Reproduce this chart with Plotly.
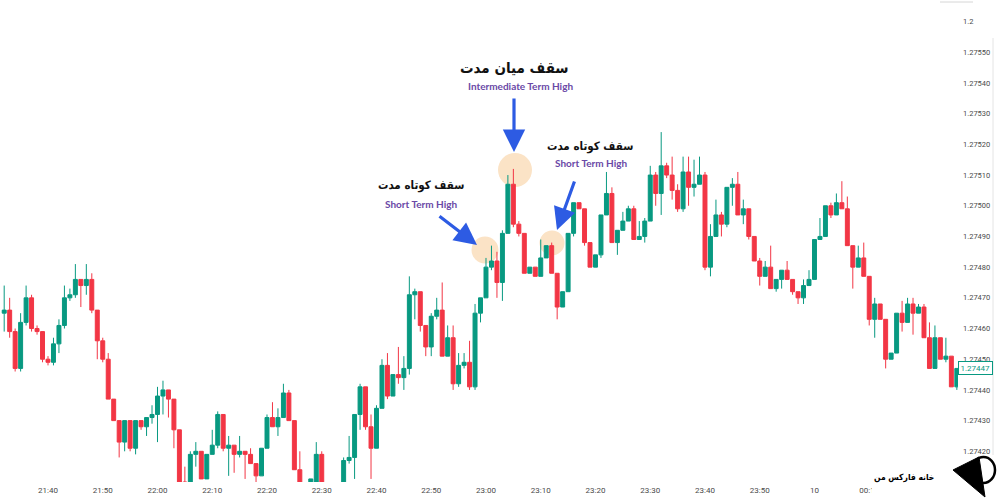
import pandas as pd
import plotly.graph_objects as go

# ---------------- data (1-minute candles, 21:32 -> 00:26) ----------------
times = pd.date_range("2023-06-09 21:32", periods=175, freq="1min")

open_ = [
    1.27465, 1.27466, 1.27459, 1.27447, 1.27462, 1.27470, 1.27460, 1.27459, 1.27450, 1.27449,
    1.27455, 1.27461, 1.27470, 1.27471, 1.27476, 1.27474, 1.27476, 1.27466, 1.27456, 1.27450,
    1.27437, 1.27430, 1.27423, 1.27430, 1.27421, 1.27430, 1.27428, 1.27431, 1.27432, 1.27438,
    1.27440, 1.27437, 1.27427, 1.27410, 1.27409, 1.27419, 1.27420, 1.27411, 1.27419, 1.27422,
    1.27432, 1.27421, 1.27422, 1.27419, 1.27420, 1.27419, 1.27416, 1.27412, 1.27421, 1.27431,
    1.27428, 1.27431, 1.27439, 1.27430, 1.27414, 1.27409, 1.27404, 1.27410, 1.27419, 1.27407,
    1.27402, 1.27404, 1.27401, 1.27417, 1.27418, 1.27432, 1.27441, 1.27428, 1.27421, 1.27434,
    1.27448, 1.27438, 1.27445, 1.27444, 1.27447, 1.27471, 1.27472, 1.27461, 1.27454, 1.27464,
    1.27466, 1.27451, 1.27457, 1.27442, 1.27448, 1.27449, 1.27441, 1.27465, 1.27470, 1.27480,
    1.27482, 1.27475, 1.27491, 1.27507, 1.27494, 1.27491, 1.27478, 1.27480, 1.27477, 1.27483,
    1.27487, 1.27478, 1.27467, 1.27472, 1.27491, 1.27501, 1.27499, 1.27488, 1.27480, 1.27484,
    1.27497, 1.27504, 1.27488, 1.27492, 1.27495, 1.27499, 1.27489, 1.27490, 1.27495, 1.27510,
    1.27504, 1.27513, 1.27510, 1.27505, 1.27499, 1.27511, 1.27506, 1.27507, 1.27510, 1.27480,
    1.27490, 1.27497, 1.27494, 1.27506, 1.27507, 1.27497, 1.27499, 1.27490, 1.27482, 1.27477,
    1.27480, 1.27473, 1.27476, 1.27479, 1.27476, 1.27472, 1.27470, 1.27474, 1.27476, 1.27489,
    1.27490, 1.27500, 1.27497, 1.27501, 1.27499, 1.27487, 1.27480, 1.27483, 1.27477, 1.27463,
    1.27468, 1.27463, 1.27450, 1.27452, 1.27465, 1.27462, 1.27468, 1.27465, 1.27467, 1.27457,
    1.27447, 1.27457, 1.27450, 1.27451, 1.27441,
]
high = [
    1.27474, 1.27470, 1.27460, 1.27465, 1.27474, 1.27471, 1.27461, 1.27459, 1.27451, 1.27457,
    1.27463, 1.27474, 1.27473, 1.27481, 1.27476, 1.27481, 1.27478, 1.27466, 1.27457, 1.27452,
    1.27437, 1.27430, 1.27430, 1.27430, 1.27430, 1.27430, 1.27431, 1.27435, 1.27441, 1.27443,
    1.27440, 1.27437, 1.27427, 1.27415, 1.27420, 1.27423, 1.27420, 1.27419, 1.27427, 1.27433,
    1.27432, 1.27425, 1.27422, 1.27425, 1.27420, 1.27421, 1.27416, 1.27421, 1.27432, 1.27436,
    1.27434, 1.27442, 1.27440, 1.27430, 1.27420, 1.27409, 1.27411, 1.27423, 1.27420, 1.27409,
    1.27406, 1.27408, 1.27418, 1.27425, 1.27432, 1.27442, 1.27441, 1.27432, 1.27435, 1.27450,
    1.27452, 1.27445, 1.27454, 1.27451, 1.27477, 1.27473, 1.27472, 1.27461, 1.27465, 1.27470,
    1.27475, 1.27461, 1.27461, 1.27452, 1.27452, 1.27456, 1.27468, 1.27470, 1.27483, 1.27487,
    1.27485, 1.27492, 1.27510, 1.27512, 1.27495, 1.27491, 1.27480, 1.27480, 1.27489, 1.27487,
    1.27488, 1.27478, 1.27472, 1.27491, 1.27501, 1.27501, 1.27499, 1.27488, 1.27484, 1.27497,
    1.27511, 1.27506, 1.27492, 1.27498, 1.27500, 1.27500, 1.27495, 1.27496, 1.27513, 1.27511,
    1.27524, 1.27514, 1.27516, 1.27507, 1.27516, 1.27516, 1.27515, 1.27516, 1.27511, 1.27494,
    1.27502, 1.27498, 1.27506, 1.27509, 1.27511, 1.27502, 1.27499, 1.27490, 1.27483, 1.27482,
    1.27487, 1.27476, 1.27479, 1.27482, 1.27476, 1.27472, 1.27476, 1.27479, 1.27489, 1.27496,
    1.27500, 1.27501, 1.27504, 1.27508, 1.27503, 1.27487, 1.27487, 1.27488, 1.27477, 1.27470,
    1.27468, 1.27463, 1.27452, 1.27465, 1.27469, 1.27470, 1.27470, 1.27468, 1.27468, 1.27462,
    1.27461, 1.27457, 1.27457, 1.27451, 1.27447,
]
low = [
    1.27459, 1.27457, 1.27446, 1.27446, 1.27461, 1.27459, 1.27458, 1.27449, 1.27448, 1.27448,
    1.27452, 1.27460, 1.27469, 1.27470, 1.27467, 1.27471, 1.27465, 1.27450, 1.27449, 1.27437,
    1.27430, 1.27418, 1.27420, 1.27420, 1.27419, 1.27427, 1.27425, 1.27429, 1.27423, 1.27432,
    1.27431, 1.27421, 1.27409, 1.27407, 1.27406, 1.27415, 1.27411, 1.27411, 1.27419, 1.27421,
    1.27420, 1.27412, 1.27413, 1.27418, 1.27411, 1.27416, 1.27410, 1.27412, 1.27421, 1.27428,
    1.27425, 1.27431, 1.27430, 1.27414, 1.27408, 1.27402, 1.27403, 1.27408, 1.27405, 1.27400,
    1.27398, 1.27399, 1.27400, 1.27416, 1.27411, 1.27427, 1.27427, 1.27411, 1.27421, 1.27434,
    1.27437, 1.27438, 1.27442, 1.27440, 1.27445, 1.27463, 1.27459, 1.27451, 1.27451, 1.27463,
    1.27451, 1.27451, 1.27440, 1.27441, 1.27447, 1.27440, 1.27440, 1.27462, 1.27470, 1.27479,
    1.27470, 1.27469, 1.27491, 1.27493, 1.27490, 1.27478, 1.27478, 1.27477, 1.27477, 1.27483,
    1.27478, 1.27463, 1.27467, 1.27472, 1.27490, 1.27499, 1.27487, 1.27480, 1.27480, 1.27483,
    1.27497, 1.27488, 1.27484, 1.27492, 1.27495, 1.27489, 1.27489, 1.27488, 1.27495, 1.27500,
    1.27497, 1.27509, 1.27502, 1.27498, 1.27498, 1.27500, 1.27503, 1.27507, 1.27479, 1.27477,
    1.27490, 1.27490, 1.27493, 1.27500, 1.27497, 1.27494, 1.27489, 1.27482, 1.27474, 1.27477,
    1.27473, 1.27472, 1.27473, 1.27476, 1.27471, 1.27468, 1.27468, 1.27474, 1.27476, 1.27489,
    1.27490, 1.27496, 1.27497, 1.27499, 1.27487, 1.27473, 1.27480, 1.27477, 1.27461, 1.27457,
    1.27463, 1.27447, 1.27450, 1.27452, 1.27459, 1.27462, 1.27458, 1.27465, 1.27457, 1.27447,
    1.27447, 1.27450, 1.27449, 1.27441, 1.27440,
]
close = [
    1.27466, 1.27459, 1.27447, 1.27462, 1.27470, 1.27460, 1.27459, 1.27450, 1.27449, 1.27455,
    1.27461, 1.27470, 1.27471, 1.27476, 1.27474, 1.27476, 1.27466, 1.27456, 1.27450, 1.27437,
    1.27430, 1.27423, 1.27430, 1.27421, 1.27430, 1.27428, 1.27431, 1.27432, 1.27438, 1.27440,
    1.27437, 1.27427, 1.27410, 1.27409, 1.27419, 1.27420, 1.27411, 1.27419, 1.27422, 1.27432,
    1.27421, 1.27422, 1.27419, 1.27420, 1.27419, 1.27416, 1.27412, 1.27421, 1.27431, 1.27428,
    1.27431, 1.27439, 1.27430, 1.27414, 1.27409, 1.27404, 1.27411, 1.27419, 1.27407, 1.27402,
    1.27404, 1.27401, 1.27417, 1.27418, 1.27432, 1.27441, 1.27428, 1.27421, 1.27434, 1.27448,
    1.27438, 1.27445, 1.27444, 1.27447, 1.27471, 1.27472, 1.27461, 1.27454, 1.27464, 1.27466,
    1.27451, 1.27457, 1.27442, 1.27448, 1.27449, 1.27441, 1.27465, 1.27470, 1.27480, 1.27482,
    1.27475, 1.27491, 1.27507, 1.27494, 1.27491, 1.27478, 1.27480, 1.27477, 1.27483, 1.27487,
    1.27478, 1.27467, 1.27472, 1.27491, 1.27501, 1.27499, 1.27488, 1.27480, 1.27484, 1.27497,
    1.27504, 1.27488, 1.27492, 1.27495, 1.27499, 1.27489, 1.27490, 1.27495, 1.27510, 1.27504,
    1.27513, 1.27510, 1.27505, 1.27499, 1.27511, 1.27506, 1.27507, 1.27510, 1.27480, 1.27490,
    1.27497, 1.27494, 1.27506, 1.27507, 1.27497, 1.27499, 1.27490, 1.27482, 1.27477, 1.27480,
    1.27473, 1.27476, 1.27479, 1.27476, 1.27472, 1.27470, 1.27474, 1.27476, 1.27489, 1.27490,
    1.27500, 1.27497, 1.27501, 1.27499, 1.27487, 1.27480, 1.27483, 1.27477, 1.27463, 1.27468,
    1.27463, 1.27450, 1.27452, 1.27465, 1.27462, 1.27468, 1.27465, 1.27467, 1.27457, 1.27447,
    1.27457, 1.27450, 1.27451, 1.27441, 1.27447,
]

x_tick_times = pd.date_range("2023-06-09 21:40", periods=17, freq="10min")
x_tick_labels = ["21:40", "21:50", "22:00", "22:10", "22:20", "22:30", "22:40", "22:50",
                 "23:00", "23:10", "23:20", "23:30", "23:40", "23:50", "10", "00:10", "00:20"]
y_tick_vals = [1.2742, 1.2743, 1.2744, 1.2745, 1.2746, 1.2747, 1.2748, 1.2749,
               1.2750, 1.2751, 1.2752, 1.2753, 1.2754, 1.2755, 1.2756]
y_tick_labels = ["1.27420", "1.27430", "1.27440", "1.27450", "1.27460", "1.27470", "1.27480",
                 "1.27490", "1.27500", "1.27510", "1.27520", "1.27530", "1.27540", "1.27550", "1.2"]
last_price = 1.27447
last_price_label = "1.27447"

title_mid_fa = "سقف میان مدت"
title_mid_en = "Intermediate Term High"
title_short_fa = "سقف کوتاه مدت"
title_short_en = "Short Term High"
logo_text = "خانه فارکس من"

# ---------------- styling ----------------
GREEN = "#089981"
RED = "#F23645"
BLUE = "#2d5be3"
PURPLE = "#6a48a6"
PEACH = "#fbe3c6"

W, H = 1000, 500
ML, MR, MT, MB = 0, 42, 5, 18
PW, PH = W - ML - MR, H - MT - MB


def PX(x):
    return (x - ML) / PW


def PY(y):
    return (H - MB - y) / PH


fig = go.Figure()
fig.add_trace(go.Candlestick(
    x=times, open=open_, high=high, low=low, close=close,
    increasing=dict(line=dict(color=GREEN, width=1), fillcolor=GREEN),
    decreasing=dict(line=dict(color=RED, width=1), fillcolor=RED),
    whiskerwidth=0, showlegend=False, hoverinfo="skip",
))

x_start = times[0] - pd.Timedelta(seconds=46)
x_end = x_start + pd.Timedelta(minutes=174.98)

shapes = []
# highlight circles (behind candles)
for cx, cy, r in [(515, 170, 17), (485, 250, 13.5), (552, 243, 12.5)]:
    shapes.append(dict(type="circle", xref="paper", yref="paper",
                       x0=PX(cx - r), x1=PX(cx + r), y0=PY(cy + r), y1=PY(cy - r),
                       fillcolor=PEACH, line=dict(width=0), layer="below"))
# right panel separator
shapes.append(dict(type="line", xref="paper", yref="paper", x0=PX(993), x1=PX(993),
                   y0=PY(38), y1=PY(500), line=dict(color="#e4e4e4", width=1), layer="above"))
# top-right small rule
shapes.append(dict(type="line", xref="paper", yref="paper", x0=PX(940), x1=PX(973),
                   y0=PY(2), y1=PY(2), line=dict(color="#d6d6d6", width=1), layer="above"))
# logo backdrop
shapes.append(dict(type="rect", xref="paper", yref="paper", x0=PX(872), x1=PX(1000),
                   y0=PY(500), y1=PY(455), fillcolor="white", line=dict(width=0), layer="above"))
# logo glyph: dart + ring
tri = [(953, 470), (979, 457), (985, 497)]
path = "M " + " L ".join(f"{PX(a):.5f},{PY(b):.5f}" for a, b in tri) + " Z"
shapes.append(dict(type="path", xref="paper", yref="paper", path=path,
                   fillcolor="black", line=dict(color="black", width=1), layer="above"))
shapes.append(dict(type="circle", xref="paper", yref="paper", x0=PX(972), x1=PX(995),
                   y0=PY(483), y1=PY(457), fillcolor="rgba(0,0,0,0)",
                   line=dict(color="black", width=2.5), layer="above"))

ann = []
fa_font = "DejaVu Sans Condensed, DejaVu Sans, sans-serif"
en_font = "Lato, Open Sans, sans-serif"


def label(x, y, text, size, color, family, bold=True):
    ann.append(dict(xref="paper", yref="paper", x=PX(x), y=PY(y), text=(f"<b>{text}</b>" if bold else text),
                    showarrow=False, xanchor="center", yanchor="middle",
                    font=dict(size=size, color=color, family=family)))


label(514, 68, title_mid_fa, 15, "#111111", fa_font)
label(520, 86, title_mid_en, 10, PURPLE, en_font)
label(421, 185, title_short_fa, 11.5, "#111111", fa_font)
label(421, 204, title_short_en, 10, PURPLE, en_font)
label(590, 146, title_short_fa, 11.5, "#111111", fa_font)
label(591, 163, title_short_en, 10, PURPLE, en_font)
label(904, 477, logo_text, 8.5, "#000000", fa_font)

for tip, tail in [((514, 152), (514, 97)), ((477, 245), (438, 215)), ((557, 230), (575, 180))]:
    ann.append(dict(xref="paper", yref="paper", x=PX(tip[0]), y=PY(tip[1]), text="",
                    showarrow=True, ax=tail[0] - tip[0], ay=tail[1] - tip[1],
                    arrowhead=2, arrowsize=1.4, arrowwidth=3.2, arrowcolor=BLUE, standoff=0))

ann.append(dict(xref="paper", yref="y", x=1.0, y=last_price, text=last_price_label,
                showarrow=False, xanchor="left", yanchor="middle", xshift=0,
                font=dict(size=8, color=GREEN, family="Roboto"),
                bgcolor="white", bordercolor=GREEN, borderwidth=1, borderpad=1.5))

fig.update_layout(
    width=W, height=H,
    margin=dict(l=ML, r=MR, t=MT, b=MB),
    paper_bgcolor="white", plot_bgcolor="white",
    boxgap=0.15, boxgroupgap=0.15,
    shapes=shapes, annotations=ann,
    xaxis=dict(type="date", range=[x_start, x_end], rangeslider=dict(visible=False),
               tickvals=list(x_tick_times), ticktext=x_tick_labels,
               showgrid=False, zeroline=False, showline=False, ticks="",
               ticklabelstandoff=2,
               tickfont=dict(size=8, color="#4a4a4a", family="Roboto")),
    yaxis=dict(side="right", range=[1.27410, 1.275654], tickvals=y_tick_vals, ticktext=y_tick_labels,
               showgrid=False, zeroline=False, showline=False, ticks="",
               ticklabelstandoff=4,
               tickfont=dict(size=7.5, color="#4a4a4a", family="Roboto")),
)

fig.write_html("out.html", config={"displayModeBar": False},
               post_script="document.body.style.margin='0';document.body.style.overflow='hidden';")
